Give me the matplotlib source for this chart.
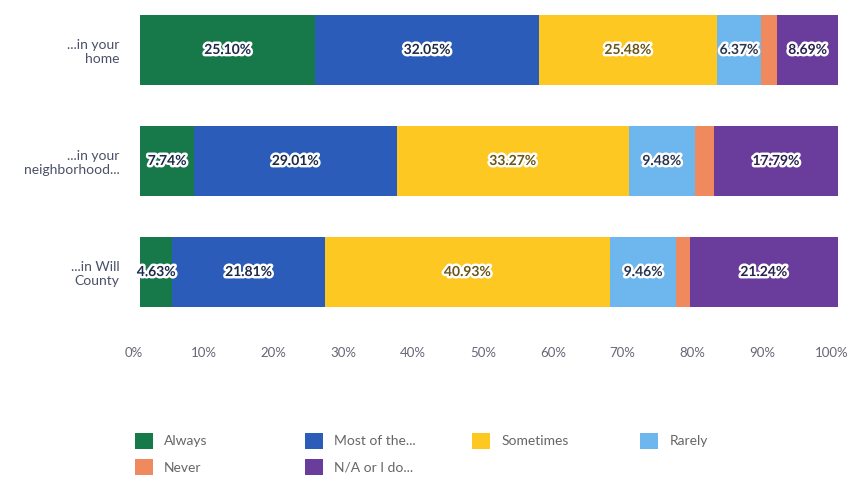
import numpy as np
import matplotlib.pyplot as plt
import matplotlib.patheffects as pe
import matplotlib.transforms as mtransforms
from matplotlib.patches import Patch

plt.rcParams['font.family'] = ['Lato', 'DejaVu Sans']

categories = ['...in your\nhome', '...in your\nneighborhood...', '...in Will\nCounty']
series = ['Always', 'Most of the...', 'Sometimes', 'Rarely', 'Never', 'N/A or I do...']

always = [25.10, 7.74, 4.63]
most = [32.05, 29.01, 21.81]
sometimes = [25.48, 33.27, 40.93]
rarely = [6.37, 9.48, 9.46]
never = [2.31, 2.71, 1.93]
na = [8.69, 17.79, 21.24]

colors = ['#17794a', '#2b5cba', '#fec823', '#6db6ee', '#f08a5e', '#6a3d9c']
text_colors = ['#1c2a4a', '#1c2a4a', '#6b5614', '#2a3550', None, '#2a2150']
show_label = [True, True, True, True, False, True]

values = [always, most, sometimes, rarely, never, na]

fig = plt.figure(figsize=(8.49, 4.82), dpi=100)
ax = fig.add_axes([0.165, 0.355, 0.822, 0.622])

y = np.arange(len(categories))
left = np.zeros(len(categories))
for vals, col, tcol, show in zip(values, colors, text_colors, show_label):
    vals = np.array(vals)
    ax.barh(y, vals, left=left, height=0.63, color=col, edgecolor='none')
    if show:
        for yi, (l, v) in enumerate(zip(left, vals)):
            t = ax.text(l + v / 2, yi, '{:.2f}%'.format(v), ha='center', va='center',
                        fontsize=10, fontweight='bold', color=tcol)
            t.set_path_effects([pe.withStroke(linewidth=3.5, foreground='white')])
    left += vals

ax.set_xlim(0, 100)
ax.set_ylim(2.35, -0.35)
ax.set_yticks(y)
ax.set_yticklabels(categories, fontsize=10, color='#4a5068')
ax.set_xticks(np.arange(0, 101, 10))
ax.set_xticklabels(['{}%'.format(v) for v in range(0, 101, 10)], fontsize=9.5, color='#666677')
ax.tick_params(axis='x', length=0, pad=26)
ax.tick_params(axis='y', length=0, pad=15)
# nudge the percent labels a little to the left so 100% stays inside
shift = mtransforms.ScaledTranslation(-6 / 100, 0, fig.dpi_scale_trans)
for lab in ax.get_xticklabels():
    lab.set_transform(lab.get_transform() + shift)
for s in ax.spines.values():
    s.set_visible(False)

# legend: one small legend per column at fixed positions
handles = [Patch(facecolor=c, edgecolor='none') for c in colors]
columns = [[0, 4], [1, 5], [2], [3]]
col_x = [0.159, 0.359, 0.556, 0.754]
for idx, x0 in zip(columns, col_x):
    leg = fig.legend([handles[i] for i in idx], [series[i] for i in idx],
                     loc='upper left', bbox_to_anchor=(x0, 0.102),
                     frameon=False, fontsize=10, labelcolor='#666666',
                     handlelength=1.3, handleheight=1.4, borderpad=0,
                     borderaxespad=0, handletextpad=0.8, labelspacing=0.75)

fig.savefig('out.png', dpi=100)
